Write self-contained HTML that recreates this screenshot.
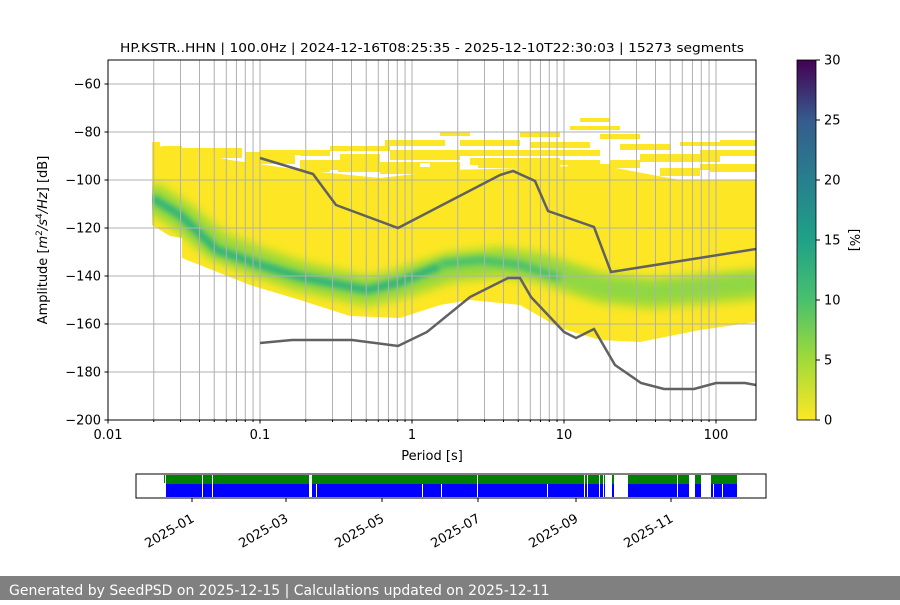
<!DOCTYPE html>
<html><head><meta charset="utf-8"><style>
body{margin:0;background:#fff;width:900px;height:600px;overflow:hidden;font-family:"Liberation Sans","DejaVu Sans",sans-serif}
svg text{font-family:"DejaVu Sans","Liberation Sans",sans-serif;fill:#000}
</style></head><body>
<svg id="s" width="900" height="600" viewBox="0 0 900 600" xmlns="http://www.w3.org/2000/svg">
<defs>
<filter id="b1" x="-20%" y="-50%" width="140%" height="200%"><feGaussianBlur stdDeviation="5"/></filter>
<filter id="b2" x="-20%" y="-50%" width="140%" height="200%"><feGaussianBlur stdDeviation="3"/></filter>
<clipPath id="cp"><rect x="108" y="60" width="648" height="360"/></clipPath>
<clipPath id="yc"><path d="M152,145 L180,150 L230,160 L300,170 L380,178 L450,170 L520,168 L600,165 L680,180 L756,180 L756,322 L700,330 L640,342 L600,340 L560,328 L520,305 L470,300 L440,305 L400,318 L350,316 L300,300 L250,285 L182,258 L182,238 L170,236 L152,225 Z"/></clipPath>
<linearGradient id="vir" x1="0" y1="1" x2="0" y2="0">
<stop offset="0" stop-color="#fde725"/><stop offset="0.17" stop-color="#a0da39"/><stop offset="0.33" stop-color="#4ac16d"/><stop offset="0.5" stop-color="#1fa187"/><stop offset="0.67" stop-color="#277f8e"/><stop offset="0.83" stop-color="#365c8d"/><stop offset="1" stop-color="#440154"/>
</linearGradient>
</defs>
<text x="432" y="52" font-size="12.5" text-anchor="middle" textLength="624" lengthAdjust="spacingAndGlyphs">HP.KSTR..HHN | 100.0Hz | 2024-12-16T08:25:35 - 2025-12-10T22:30:03 | 15273 segments</text>
<g clip-path="url(#cp)">
<g fill="#fde725">
<path d="M152,142h8v6h-8z M162,146h20v6h-20z M182,148h60v10h-60z M245,152h50v12h-50z M260,150h40v5h-40z M300,150h30v6h-30z M300,160h80v12h-80z M330,146h60v5h-60z M340,154h40v6h-40z M385,140h60v6h-60z M390,150h70v10h-70z M380,162h80v12h-80z M440,132h30v4h-30z M460,140h60v6h-60z M450,150h70v6h-70z M470,158h90v10h-90z M520,132h40v5h-40z M530,142h60v6h-60z M520,150h80v6h-80z M560,160h80v8h-80z M580,118h30v4h-30z M570,126h50v4h-50z M600,134h40v5h-40z M620,144h50v6h-50z M640,154h80v8h-80z M680,142h40v4h-40z M700,150h56v6h-56z M720,140h36v6h-36z M700,164h56v8h-56z M660,168h40v8h-40z"/>
</g>
<g fill="#fff">
<path d="M200,160h8v3h-8z M290,168h10v3h-10z M330,170h8v3h-8z M420,163h10v4h-10z M470,165h8v3h-8z M520,168h6v4h-6z M560,165h8v3h-8z M600,160h10v4h-10z M640,166h8v3h-8z M700,170h10v3h-10z M735,172h10v3h-10z"/>
</g>
<g clip-path="url(#yc)">
<rect x="100" y="100" width="700" height="300" fill="#fde725"/>
<polyline fill="none" stroke="#b5de2b" stroke-width="30" filter="url(#b1)" points="148,195 180,215 217,245 260,262 300,276 367,292 400,284 450,268 500,262 540,268 600,288 650,294 700,290 760,285"/>
<polyline fill="none" stroke="#8fd744" stroke-width="20" filter="url(#b1)" points="148,195 180,215 217,248 260,264 300,277 367,290 400,283 450,266 500,262 540,268 600,287 650,292 700,288 760,282"/>
<polyline fill="none" stroke="#2fb47c" stroke-width="8" filter="url(#b2)" points="152,198 180,215 217,250 260,265 300,277 367,290 400,282 440,266"/>
<polyline fill="none" stroke="#4ac16d" stroke-width="8" filter="url(#b2)" points="440,264 480,260 520,265 560,278"/>
</g>
<g id="grid" stroke="#b0b0b0" stroke-width="1"></g>
<polyline fill="none" stroke="#616161" stroke-width="2.5" points="260,158 313,174 336,205 398,228 500,175 513,171 535,181 548,211 594,227 611,272 756,249"/>
<polyline fill="none" stroke="#616161" stroke-width="2.5" points="260,343 292,340 352,340 398,346 427,332 470,297 508,278 520,278 531,297 564,332 576,338 594,329 615,365 641,383 664,389 694,389 716,383 745,383 756,385"/>
</g>
<rect x="108" y="60" width="648" height="360" fill="none" stroke="#000" stroke-width="1"/>
<g id="ax" font-size="13"></g>
<text x="432" y="460" font-size="13" text-anchor="middle">Period [s]</text>
<text transform="translate(47,240) rotate(-90)" font-size="13" text-anchor="middle">Amplitude [<tspan font-style="italic">m</tspan><tspan dy="-5" font-size="9">2</tspan><tspan dy="5" font-style="italic">/s</tspan><tspan dy="-5" font-size="9">4</tspan><tspan dy="5" font-style="italic">/Hz</tspan>] [dB]</text>
<rect x="797" y="60" width="19" height="360" fill="url(#vir)" stroke="#000" stroke-width="0.8"/>
<g id="cb" font-size="13"></g>
<text transform="translate(850,240) rotate(90)" font-size="13" text-anchor="middle">[%]</text>
<rect x="136" y="474" width="630" height="24" fill="#fff" stroke="#000"/>
<rect x="166" y="475" width="571" height="9" fill="#008000"/>
<rect x="166" y="484" width="571" height="13" fill="#0000ff"/>
<rect x="164" y="475" width="1" height="8" fill="#008000"/>
<g fill="#fff">
<rect x="309" y="475" width="3" height="22"/><rect x="316" y="484" width="1" height="13"/>
<rect x="202" y="475" width="1" height="22"/><rect x="212" y="475" width="1" height="22"/>
<rect x="422" y="484" width="1" height="13"/><rect x="441" y="484" width="1" height="13"/>
<rect x="477" y="475" width="1" height="22"/><rect x="547" y="484" width="1" height="13"/>
<rect x="584" y="475" width="1" height="22"/><rect x="587" y="475" width="1" height="22"/>
<rect x="599" y="475" width="1" height="22"/><rect x="603" y="475" width="1" height="22"/>
<rect x="605" y="475" width="7" height="22"/>
<rect x="614" y="475" width="14" height="22"/>
<rect x="677" y="475" width="1" height="22"/><rect x="689" y="475" width="6" height="22"/>
<rect x="701" y="475" width="10" height="22"/><rect x="713" y="484" width="1" height="13"/>
<rect x="722" y="484" width="1" height="13"/>
</g>
<rect x="612" y="475" width="2" height="9" fill="#008000"/>
<rect x="711" y="475" width="2" height="9" fill="#008000"/>
<g id="tl" font-size="13"></g>
<rect x="0" y="576" width="900" height="24" fill="#808080"/>
<text x="9" y="595" font-size="14" style="fill:#fff">Generated by SeedPSD on 2025-12-15 | Calculations updated on 2025-12-11</text>
</svg>
<script>
var NS="http://www.w3.org/2000/svg";
function el(p,t,a,txt){var e=document.createElementNS(NS,t);for(var k in a)e.setAttribute(k,a[k]);if(txt!=null)e.textContent=txt;document.getElementById(p).appendChild(e);}
function X(v){return 108+152*(Math.log10(v)+2);}
function Y(d){return 420-(d+200)*2.4;}
for(var dec=-2;dec<=2;dec++)for(var m=1;m<=9;m++){var v=m*Math.pow(10,dec);var x=X(v);if(x>108&&x<756&&!(dec==-2&&m==1))el("grid","line",{x1:x,x2:x,y1:60,y2:420});
 if(x>=108&&x<=756){el("ax","line",{x1:x,x2:x,y1:420,y2:m==1?423.5:422,stroke:"#000"});}}
for(var d=-180;d<=-60;d+=20)el("grid","line",{x1:108,x2:756,y1:Y(d),y2:Y(d)});
var xl=[["0.01",0.01],["0.1",0.1],["1",1],["10",10],["100",100]];
xl.forEach(function(a){el("ax","text",{x:X(a[1]),y:439,"text-anchor":"middle"},a[0]);});
for(var d=-200;d<=-60;d+=20){el("ax","line",{x1:104.5,x2:108,y1:Y(d),y2:Y(d),stroke:"#000"});el("ax","text",{x:101,y:Y(d)+4.5,"text-anchor":"end"},"\u2212"+(-d));}
for(var c=0;c<=30;c+=5){var y=420-c*12;el("cb","line",{x1:816,x2:820,y1:y,y2:y,stroke:"#000"});el("cb","text",{x:824,y:y+4.5},String(c));}
var tk=[[192,"2025-01"],[286,"2025-03"],[382,"2025-05"],[478,"2025-07"],[576,"2025-09"],[671,"2025-11"]];
tk.forEach(function(a){el("tl","line",{x1:a[0],x2:a[0],y1:498,y2:502,stroke:"#000"});el("tl","text",{x:0,y:0,"text-anchor":"end",transform:"translate("+(a[0]+3)+",521) rotate(-30)"},a[1]);});
</script>
</body></html>
